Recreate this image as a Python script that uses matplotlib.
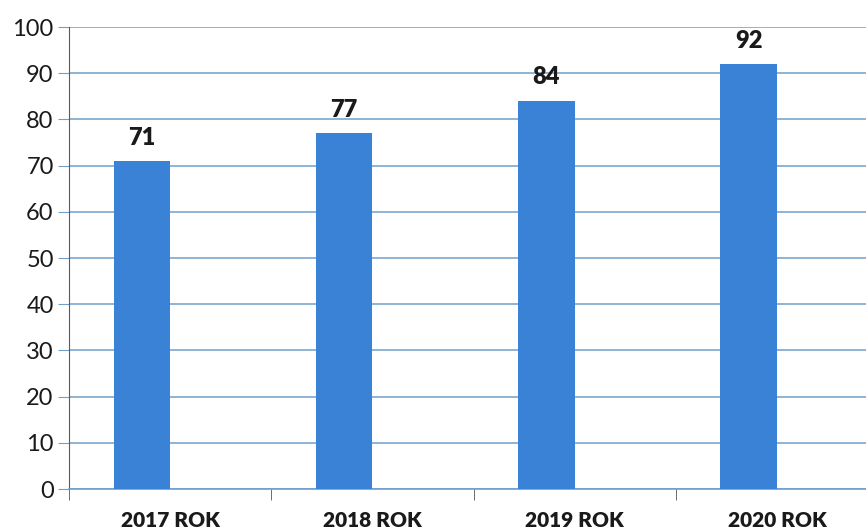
import matplotlib.pyplot as plt
import numpy as np

categories = ["2017 ROK", "2018 ROK", "2019 ROK", "2020 ROK"]
values = [71, 77, 84, 92]
y_ticks = [0, 10, 20, 30, 40, 50, 60, 70, 80, 90, 100]

plt.rcParams['font.family'] = ['Lato', 'DejaVu Sans']

fig = plt.figure(figsize=(8.66, 5.31), dpi=100)
ax = fig.add_axes([0.0797, 0.079, 0.9203, 0.870])

x = np.arange(len(categories))
bar_color = '#3a82d6'
grid_color = '#6f9fcc'

# bars sit a bit left of the category centre in the original
bars = ax.bar(x - 0.14, values, width=0.28, color=bar_color, zorder=3)

for b, v in zip(bars, values):
    ax.annotate(str(v), (b.get_x() + b.get_width() / 2, v),
                xytext=(0, 9), textcoords='offset points',
                ha='center', va='bottom', fontsize=17, fontweight='heavy',
                color='#1a1a1a', annotation_clip=False)

ax.set_ylim(0, 100)
ax.set_xlim(-0.5, 3.44)
ax.set_yticks(y_ticks)
ax.tick_params(axis='y', labelsize=17, length=8, color=grid_color,
               labelcolor='#1a1a1a', pad=3)
ax.grid(axis='y', color=grid_color, linewidth=1.1, zorder=0)

# category labels at centres, tick marks at boundaries
ax.set_xticks(x)
ax.set_xticklabels(categories, fontsize=15, fontweight='heavy', color='#1a1a1a')
ax.set_xticks([-0.5, 0.5, 1.5, 2.5], minor=True)
ax.tick_params(axis='x', which='major', length=0, pad=16)
ax.tick_params(axis='x', which='minor', length=8, color='#555555')

for s in ['top', 'right']:
    ax.spines[s].set_visible(False)
ax.spines['left'].set_color('#555a66')
ax.spines['bottom'].set_color(grid_color)
ax.spines['bottom'].set_linewidth(1.2)

fig.savefig('out.png', dpi=100)
